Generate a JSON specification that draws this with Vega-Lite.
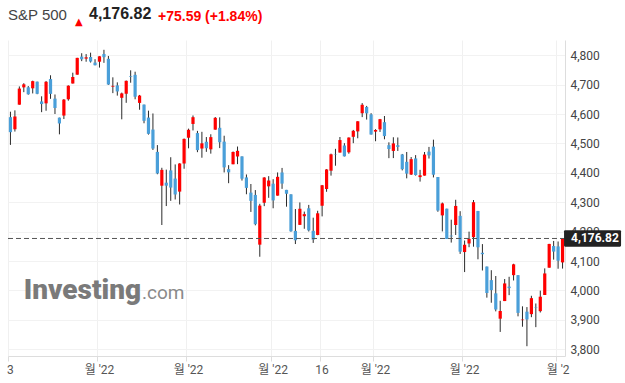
{
  "$schema": "https://vega.github.io/schema/vega-lite/v6.json",
  "background": "white",
  "padding": {"left": 6, "top": 5, "right": 0, "bottom": 0},
  "config": {"view": {"stroke": null}},
  "bounds": "flush",
  "datasets": {
    "spx": [
      {"date":"2021-12-03","open":4589.49,"high":4608.03,"low":4495.12,"close":4538.43},
      {"date":"2021-12-06","open":4548.37,"high":4612.60,"low":4540.51,"close":4591.67},
      {"date":"2021-12-07","open":4631.97,"high":4694.04,"low":4631.97,"close":4686.75},
      {"date":"2021-12-08","open":4690.86,"high":4705.06,"low":4674.52,"close":4701.21},
      {"date":"2021-12-09","open":4691.00,"high":4695.26,"low":4665.98,"close":4667.45},
      {"date":"2021-12-10","open":4687.64,"high":4713.57,"low":4670.24,"close":4712.02},
      {"date":"2021-12-13","open":4710.30,"high":4710.30,"low":4667.60,"close":4668.97},
      {"date":"2021-12-14","open":4642.99,"high":4660.47,"low":4606.52,"close":4634.09},
      {"date":"2021-12-15","open":4636.46,"high":4712.60,"low":4611.22,"close":4709.85},
      {"date":"2021-12-16","open":4719.13,"high":4731.99,"low":4651.89,"close":4668.67},
      {"date":"2021-12-17","open":4652.50,"high":4666.70,"low":4600.22,"close":4620.64},
      {"date":"2021-12-20","open":4587.90,"high":4587.90,"low":4531.10,"close":4568.02},
      {"date":"2021-12-21","open":4594.96,"high":4651.14,"low":4583.16,"close":4649.23},
      {"date":"2021-12-22","open":4650.36,"high":4697.67,"low":4645.53,"close":4696.56},
      {"date":"2021-12-23","open":4703.96,"high":4740.74,"low":4703.96,"close":4725.79},
      {"date":"2021-12-27","open":4733.99,"high":4791.49,"low":4733.99,"close":4791.19},
      {"date":"2021-12-28","open":4795.49,"high":4807.02,"low":4780.04,"close":4786.35},
      {"date":"2021-12-29","open":4788.64,"high":4804.06,"low":4778.08,"close":4793.06},
      {"date":"2021-12-30","open":4794.23,"high":4808.93,"low":4775.33,"close":4778.73},
      {"date":"2021-12-31","open":4775.21,"high":4786.83,"low":4765.75,"close":4766.18},
      {"date":"2022-01-03","open":4778.14,"high":4796.64,"low":4758.17,"close":4796.56},
      {"date":"2022-01-04","open":4804.51,"high":4818.62,"low":4774.27,"close":4793.54},
      {"date":"2022-01-05","open":4787.99,"high":4797.70,"low":4699.44,"close":4700.58},
      {"date":"2022-01-06","open":4693.39,"high":4725.01,"low":4671.26,"close":4696.05},
      {"date":"2022-01-07","open":4697.66,"high":4707.95,"low":4662.74,"close":4677.03},
      {"date":"2022-01-10","open":4655.34,"high":4673.02,"low":4582.24,"close":4670.29},
      {"date":"2022-01-11","open":4669.14,"high":4714.13,"low":4638.27,"close":4713.07},
      {"date":"2022-01-12","open":4728.59,"high":4748.83,"low":4706.71,"close":4726.35},
      {"date":"2022-01-13","open":4733.56,"high":4744.13,"low":4650.29,"close":4659.03},
      {"date":"2022-01-14","open":4637.99,"high":4665.13,"low":4614.75,"close":4662.85},
      {"date":"2022-01-18","open":4632.24,"high":4632.24,"low":4568.70,"close":4577.11},
      {"date":"2022-01-19","open":4588.03,"high":4611.55,"low":4530.20,"close":4532.76},
      {"date":"2022-01-20","open":4547.35,"high":4602.11,"low":4477.95,"close":4482.73},
      {"date":"2022-01-21","open":4471.38,"high":4494.52,"low":4395.34,"close":4397.94},
      {"date":"2022-01-24","open":4356.32,"high":4417.35,"low":4222.62,"close":4410.13},
      {"date":"2022-01-25","open":4366.64,"high":4411.01,"low":4287.11,"close":4356.45},
      {"date":"2022-01-26","open":4408.43,"high":4453.23,"low":4304.80,"close":4349.93},
      {"date":"2022-01-27","open":4380.58,"high":4428.74,"low":4309.50,"close":4326.51},
      {"date":"2022-01-28","open":4336.19,"high":4432.72,"low":4292.46,"close":4431.85},
      {"date":"2022-01-31","open":4431.79,"high":4516.89,"low":4414.02,"close":4515.55},
      {"date":"2022-02-01","open":4519.57,"high":4550.49,"low":4483.53,"close":4546.54},
      {"date":"2022-02-02","open":4566.39,"high":4595.31,"low":4544.32,"close":4589.38},
      {"date":"2022-02-03","open":4535.41,"high":4542.88,"low":4470.39,"close":4477.44},
      {"date":"2022-02-04","open":4482.79,"high":4539.66,"low":4451.50,"close":4500.53},
      {"date":"2022-02-07","open":4505.75,"high":4521.86,"low":4471.47,"close":4483.87},
      {"date":"2022-02-08","open":4480.02,"high":4531.32,"low":4465.40,"close":4521.54},
      {"date":"2022-02-09","open":4547.00,"high":4590.03,"low":4547.00,"close":4587.18},
      {"date":"2022-02-10","open":4553.24,"high":4588.92,"low":4484.31,"close":4504.08},
      {"date":"2022-02-11","open":4506.27,"high":4526.33,"low":4401.41,"close":4418.64},
      {"date":"2022-02-14","open":4412.61,"high":4426.22,"low":4364.84,"close":4401.67},
      {"date":"2022-02-15","open":4429.28,"high":4472.77,"low":4429.28,"close":4471.07},
      {"date":"2022-02-16","open":4455.75,"high":4489.55,"low":4429.68,"close":4475.01},
      {"date":"2022-02-17","open":4456.06,"high":4456.06,"low":4373.81,"close":4380.26},
      {"date":"2022-02-18","open":4384.57,"high":4394.60,"low":4327.22,"close":4348.87},
      {"date":"2022-02-22","open":4332.74,"high":4362.12,"low":4267.11,"close":4304.76},
      {"date":"2022-02-23","open":4324.93,"high":4341.51,"low":4221.51,"close":4225.50},
      {"date":"2022-02-24","open":4155.77,"high":4294.73,"low":4114.65,"close":4288.70},
      {"date":"2022-02-25","open":4298.38,"high":4385.34,"low":4286.83,"close":4384.65},
      {"date":"2022-02-28","open":4354.17,"high":4388.84,"low":4315.12,"close":4373.94},
      {"date":"2022-03-01","open":4363.14,"high":4378.45,"low":4279.54,"close":4306.26},
      {"date":"2022-03-02","open":4322.56,"high":4401.48,"low":4322.56,"close":4386.54},
      {"date":"2022-03-03","open":4401.31,"high":4416.78,"low":4345.56,"close":4363.49},
      {"date":"2022-03-04","open":4342.12,"high":4342.12,"low":4284.98,"close":4328.87},
      {"date":"2022-03-07","open":4327.01,"high":4327.01,"low":4199.85,"close":4201.09},
      {"date":"2022-03-08","open":4202.66,"high":4276.94,"low":4157.87,"close":4170.70},
      {"date":"2022-03-09","open":4223.10,"high":4299.40,"low":4223.10,"close":4277.88},
      {"date":"2022-03-10","open":4252.55,"high":4268.28,"low":4209.80,"close":4259.52},
      {"date":"2022-03-11","open":4279.50,"high":4291.01,"low":4200.49,"close":4204.31},
      {"date":"2022-03-14","open":4202.75,"high":4247.57,"low":4161.72,"close":4173.11},
      {"date":"2022-03-15","open":4188.82,"high":4271.05,"low":4187.90,"close":4262.45},
      {"date":"2022-03-16","open":4288.14,"high":4358.90,"low":4251.99,"close":4357.86},
      {"date":"2022-03-17","open":4345.11,"high":4412.67,"low":4335.65,"close":4411.67},
      {"date":"2022-03-18","open":4407.34,"high":4465.40,"low":4390.57,"close":4463.12},
      {"date":"2022-03-21","open":4462.40,"high":4481.75,"low":4424.30,"close":4461.18},
      {"date":"2022-03-22","open":4469.10,"high":4522.00,"low":4469.10,"close":4511.61},
      {"date":"2022-03-23","open":4493.10,"high":4501.07,"low":4455.81,"close":4456.24},
      {"date":"2022-03-24","open":4469.98,"high":4520.58,"low":4465.17,"close":4520.16},
      {"date":"2022-03-25","open":4522.66,"high":4546.03,"low":4501.07,"close":4543.06},
      {"date":"2022-03-28","open":4541.09,"high":4575.65,"low":4517.69,"close":4575.52},
      {"date":"2022-03-29","open":4602.86,"high":4637.30,"low":4589.66,"close":4631.60},
      {"date":"2022-03-30","open":4624.20,"high":4627.77,"low":4581.32,"close":4602.45},
      {"date":"2022-03-31","open":4599.02,"high":4603.07,"low":4530.41,"close":4530.41},
      {"date":"2022-04-01","open":4540.32,"high":4548.70,"low":4507.57,"close":4545.86},
      {"date":"2022-04-04","open":4547.97,"high":4583.50,"low":4539.21,"close":4582.64},
      {"date":"2022-04-05","open":4572.45,"high":4593.45,"low":4514.17,"close":4525.12},
      {"date":"2022-04-06","open":4494.17,"high":4503.94,"low":4450.04,"close":4481.15},
      {"date":"2022-04-07","open":4474.65,"high":4521.16,"low":4450.30,"close":4500.21},
      {"date":"2022-04-08","open":4494.15,"high":4520.41,"low":4474.60,"close":4488.28},
      {"date":"2022-04-11","open":4462.64,"high":4464.35,"low":4408.38,"close":4412.53},
      {"date":"2022-04-12","open":4437.59,"high":4471.00,"low":4381.34,"close":4397.45},
      {"date":"2022-04-13","open":4394.30,"high":4453.92,"low":4392.70,"close":4446.59},
      {"date":"2022-04-14","open":4449.12,"high":4460.46,"low":4390.77,"close":4392.59},
      {"date":"2022-04-18","open":4385.63,"high":4410.31,"low":4370.30,"close":4391.69},
      {"date":"2022-04-19","open":4390.63,"high":4471.03,"low":4390.63,"close":4462.21},
      {"date":"2022-04-20","open":4472.26,"high":4488.29,"low":4448.76,"close":4459.45},
      {"date":"2022-04-21","open":4489.17,"high":4512.94,"low":4384.47,"close":4393.66},
      {"date":"2022-04-22","open":4385.83,"high":4385.83,"low":4267.62,"close":4271.78},
      {"date":"2022-04-25","open":4255.34,"high":4299.02,"low":4200.82,"close":4296.12},
      {"date":"2022-04-26","open":4278.14,"high":4278.14,"low":4175.04,"close":4175.20},
      {"date":"2022-04-27","open":4186.52,"high":4240.71,"low":4162.90,"close":4183.96},
      {"date":"2022-04-28","open":4222.58,"high":4308.45,"low":4188.63,"close":4287.50},
      {"date":"2022-04-29","open":4253.75,"high":4269.68,"low":4124.28,"close":4131.93},
      {"date":"2022-05-02","open":4130.61,"high":4169.81,"low":4062.51,"close":4155.38},
      {"date":"2022-05-03","open":4159.78,"high":4200.10,"low":4147.08,"close":4175.48},
      {"date":"2022-05-04","open":4181.18,"high":4307.66,"low":4148.91,"close":4300.17},
      {"date":"2022-05-05","open":4270.43,"high":4270.43,"low":4106.01,"close":4146.87},
      {"date":"2022-05-06","open":4128.17,"high":4157.69,"low":4067.91,"close":4123.34},
      {"date":"2022-05-09","open":4081.27,"high":4081.27,"low":3975.48,"close":3991.24},
      {"date":"2022-05-10","open":4035.18,"high":4068.82,"low":3958.17,"close":4001.05},
      {"date":"2022-05-11","open":3990.08,"high":4049.09,"low":3928.82,"close":3935.18},
      {"date":"2022-05-12","open":3903.95,"high":3964.80,"low":3858.87,"close":3930.08},
      {"date":"2022-05-13","open":3963.90,"high":4038.88,"low":3963.90,"close":4023.89},
      {"date":"2022-05-16","open":4013.02,"high":4046.46,"low":3983.99,"close":4008.01},
      {"date":"2022-05-17","open":4052.00,"high":4090.72,"low":4033.93,"close":4088.85},
      {"date":"2022-05-18","open":4051.98,"high":4051.98,"low":3911.91,"close":3923.68},
      {"date":"2022-05-19","open":3899.00,"high":3945.96,"low":3876.58,"close":3900.79},
      {"date":"2022-05-20","open":3927.76,"high":3943.42,"low":3810.32,"close":3901.36},
      {"date":"2022-05-23","open":3919.42,"high":3981.88,"low":3909.04,"close":3973.75},
      {"date":"2022-05-24","open":3942.94,"high":3955.68,"low":3875.13,"close":3941.48},
      {"date":"2022-05-25","open":3929.59,"high":3999.33,"low":3925.03,"close":3978.73},
      {"date":"2022-05-26","open":3984.60,"high":4075.14,"low":3984.60,"close":4057.84},
      {"date":"2022-05-27","open":4077.43,"high":4158.49,"low":4077.43,"close":4158.24},
      {"date":"2022-05-31","open":4151.09,"high":4168.34,"low":4104.88,"close":4132.15},
      {"date":"2022-06-01","open":4149.78,"high":4166.54,"low":4073.85,"close":4101.23},
      {"date":"2022-06-02","open":4095.41,"high":4177.51,"low":4074.37,"close":4176.82}
    ],
    "last": [{"date": "2022-06-02", "price": 4176.82, "label": "4,176.82"}],
    "wm1": [{"date": "2021-12-08", "value": 3971, "text": "Investing"}],
    "wm2": [{"date": "2022-01-18", "value": 3971, "text": ".com"}]
  },
  "vconcat": [
    {
      "spacing": 0,
      "bounds": "flush",
      "hconcat": [
        {"width": 67, "height": 1, "data": {"values": [{}]}, "mark": {"type": "text", "text": ""},
         "title": {"text": "S&P 500", "anchor": "start", "frame": "group", "font": "Liberation Sans", "fontSize": 15, "fontWeight": "normal", "color": "#444444", "baseline": "alphabetic", "offset": 0}},
        {"width": 14, "height": 1, "data": {"values": [{}]}, "mark": {"type": "text", "text": ""},
         "title": {"text": "▲", "anchor": "start", "frame": "group", "font": "DejaVu Sans", "fontSize": 10, "fontWeight": "normal", "color": "#ff0000", "baseline": "alphabetic", "offset": 0}},
        {"width": 69, "height": 1, "data": {"values": [{}]}, "mark": {"type": "text", "text": ""},
         "title": {"text": "4,176.82", "anchor": "start", "frame": "group", "font": "Liberation Sans", "fontSize": 16, "fontWeight": "bold", "color": "#222222", "baseline": "alphabetic", "offset": 0}},
        {"width": 120, "height": 1, "data": {"values": [{}]}, "mark": {"type": "text", "text": ""},
         "title": {"text": "+75.59 (+1.84%)", "anchor": "start", "frame": "group", "font": "Liberation Sans", "fontSize": 14, "fontWeight": "bold", "color": "#ff0000", "baseline": "alphabetic", "offset": 0}}
      ]
    },
    {
      "width": 557,
      "height": 316,
      "layer": [
        {
          "data": {"name": "wm1"},
          "mark": {"type": "text", "align": "left", "baseline": "alphabetic", "font": "Roboto", "fontSize": 28, "fontWeight": 900, "color": "#7a7a7a"},
          "encoding": {
            "x": {"field": "date", "type": "ordinal", "scale": {"paddingInner": 0, "paddingOuter": 0.05},
              "axis": {"values": ["2021-12-03","2022-01-03","2022-02-01","2022-03-01","2022-03-16","2022-04-01","2022-05-02","2022-06-01"],
                "labelExpr": "datum.value == '2021-12-03' ? '3' : datum.value == '2022-03-16' ? '16' : datum.value == '2022-06-01' ? \"월 '2\" : \"월 '22\"",
                "bandPosition": 0.1,
                "labelAngle": 0, "title": null, "grid": true, "gridColor": "#f0f0f0", "domainColor": "#dddddd", "tickColor": "#dddddd", "tickSize": 5,
                "labelColor": "#555555", "labelFont": "Roboto, Noto Sans CJK KR", "labelFontSize": 12, "labelPadding": 3, "labelOverlap": false, "labelBound": false, "labelFlush": false}},
            "y": {"field": "value", "type": "quantitative", "scale": {"domain": [3777, 4852], "nice": false, "zero": false},
              "axis": {"orient": "right", "values": [3800,3900,4000,4100,4200,4300,4400,4500,4600,4700,4800], "format": ",.0f", "title": null, "ticks": false, "labelPadding": 5, "labelColor": "#444444", "labelFont": "Roboto", "labelFontSize": 12, "domainColor": "#dddddd", "gridColor": "#f2f2f2", "grid": true}},
            "text": {"field": "text"}
          }
        },
        {
          "data": {"name": "wm2"},
          "mark": {"type": "text", "align": "left", "baseline": "alphabetic", "font": "Roboto", "fontSize": 19, "fontWeight": "normal", "color": "#8a8a8a", "dx": -2},
          "encoding": {
            "x": {"field": "date", "type": "ordinal", "axis": {"title": null}},
            "y": {"field": "value", "type": "quantitative", "scale": {"domain": [3777, 4852], "nice": false, "zero": false},
              "axis": {"orient": "right", "values": [3800,3900,4000,4100,4200,4300,4400,4500,4600,4700,4800], "format": ",.0f", "title": null, "ticks": false, "labelPadding": 5, "labelColor": "#444444", "labelFont": "Roboto", "labelFontSize": 12, "domainColor": "#dddddd", "gridColor": "#f2f2f2", "grid": true}},
            "text": {"field": "text"}
          }
        },
        {
          "data": {"name": "spx"},
          "mark": {"type": "rule", "color": "#2b2b2b", "strokeWidth": 1},
          "encoding": {
            "x": {"field": "date", "type": "ordinal", "axis": {"title": null}},
            "y": {"field": "low", "type": "quantitative", "scale": {"domain": [3777, 4852], "nice": false, "zero": false},
              "axis": {"orient": "right", "values": [3800,3900,4000,4100,4200,4300,4400,4500,4600,4700,4800], "format": ",.0f", "title": null, "ticks": false, "labelPadding": 5, "labelColor": "#444444", "labelFont": "Roboto", "labelFontSize": 12, "domainColor": "#dddddd", "gridColor": "#f2f2f2", "grid": true}},
            "y2": {"field": "high"}
          }
        },
        {
          "data": {"name": "spx"},
          "mark": {"type": "bar", "width": {"band": 0.72}},
          "encoding": {
            "x": {"field": "date", "type": "ordinal", "axis": {"title": null}},
            "y": {"field": "open", "type": "quantitative", "scale": {"domain": [3777, 4852], "nice": false, "zero": false},
              "axis": {"orient": "right", "values": [3800,3900,4000,4100,4200,4300,4400,4500,4600,4700,4800], "format": ",.0f", "title": null, "ticks": false, "labelPadding": 5, "labelColor": "#444444", "labelFont": "Roboto", "labelFontSize": 12, "domainColor": "#dddddd", "gridColor": "#f2f2f2", "grid": true}},
            "y2": {"field": "close"},
            "color": {"condition": {"test": "datum.close >= datum.open", "value": "#ff0000"}, "value": "#4a9fd9"}
          }
        },
        {
          "data": {"name": "last"},
          "mark": {"type": "rule", "color": "#555555", "strokeDash": [5, 3], "strokeWidth": 1},
          "encoding": {
            "y": {"field": "price", "type": "quantitative", "scale": {"domain": [3777, 4852], "nice": false, "zero": false},
              "axis": {"orient": "right", "values": [3800,3900,4000,4100,4200,4300,4400,4500,4600,4700,4800], "format": ",.0f", "title": null, "ticks": false, "labelPadding": 5, "labelColor": "#444444", "labelFont": "Roboto", "labelFontSize": 12, "domainColor": "#dddddd", "gridColor": "#f2f2f2", "grid": true}}
          }
        },
        {
          "data": {"name": "last"},
          "mark": {"type": "point", "shape": "M-0.96,-0.29 L0.96,-0.29 Q1,-0.29 1,-0.25 L1,0.25 Q1,0.29 0.96,0.29 L-0.96,0.29 Q-1,0.29 -1,0.25 L-1,-0.25 Q-1,-0.29 -0.96,-0.29 Z", "filled": true, "color": "#222222", "opacity": 1, "size": 3249, "xOffset": 30},
          "encoding": {
            "x": {"field": "date", "type": "ordinal", "axis": {"title": null}},
            "y": {"field": "price", "type": "quantitative", "scale": {"domain": [3777, 4852], "nice": false, "zero": false},
              "axis": {"orient": "right", "values": [3800,3900,4000,4100,4200,4300,4400,4500,4600,4700,4800], "format": ",.0f", "title": null, "ticks": false, "labelPadding": 5, "labelColor": "#444444", "labelFont": "Roboto", "labelFontSize": 12, "domainColor": "#dddddd", "gridColor": "#f2f2f2", "grid": true}}
          }
        },
        {
          "data": {"name": "last"},
          "mark": {"type": "text", "align": "left", "baseline": "middle", "xOffset": 8.5, "font": "Roboto", "fontSize": 12, "fontWeight": "bold", "color": "#ffffff"},
          "encoding": {
            "x": {"field": "date", "type": "ordinal", "axis": {"title": null}},
            "y": {"field": "price", "type": "quantitative", "scale": {"domain": [3777, 4852], "nice": false, "zero": false},
              "axis": {"orient": "right", "values": [3800,3900,4000,4100,4200,4300,4400,4500,4600,4700,4800], "format": ",.0f", "title": null, "ticks": false, "labelPadding": 5, "labelColor": "#444444", "labelFont": "Roboto", "labelFontSize": 12, "domainColor": "#dddddd", "gridColor": "#f2f2f2", "grid": true}},
            "text": {"field": "label"}
          }
        }
      ]
    }
  ],
  "spacing": 0
}
